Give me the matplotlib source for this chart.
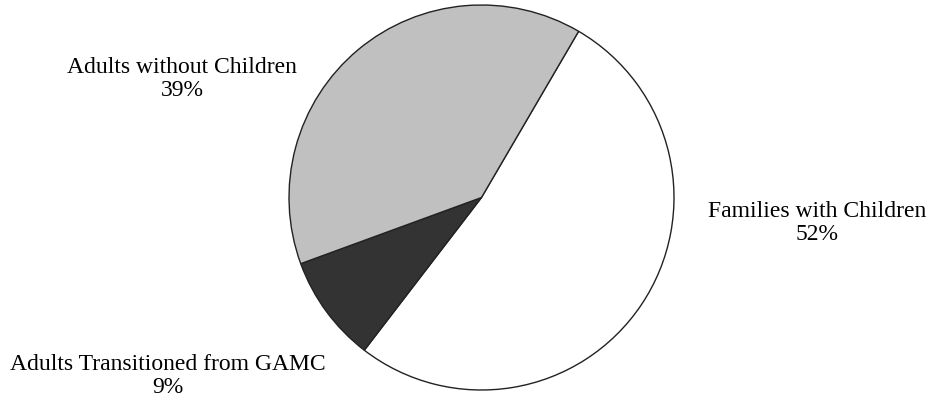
import matplotlib.pyplot as plt

# caseload breakdown
categories = ["Families with Children", "Adults Transitioned from GAMC", "Adults without Children"]
shares = [52, 9, 39]
colors = ["#ffffff", "#333333", "#c0c0c0"]

plt.rcParams['font.family'] = ['Liberation Serif', 'DejaVu Serif']

fig = plt.figure(figsize=(9.31, 4.0), dpi=100)
ax = fig.add_axes([0, 0, 1, 1])

ax.pie(shares,
       colors=colors,
       startangle=59.7,
       counterclock=False,
       center=(481.5, 202.5),
       radius=192.5,
       wedgeprops={'edgecolor': '#222222', 'linewidth': 1.0},
       frame=True)
ax.set_xlim(0, 931)
ax.set_ylim(0, 400)
ax.set_aspect('equal')
ax.axis('off')

# label positions (pixel coords of text centres)
label_pos = [(817, 177), (167.5, 24), (182, 321)]
for name, val, (x, y) in zip(categories, shares, label_pos):
    ax.text(x, y, f"{name}\n{val}%", ha='center', va='center',
            fontsize=17, linespacing=1.18)

fig.savefig('out.png', dpi=100)
